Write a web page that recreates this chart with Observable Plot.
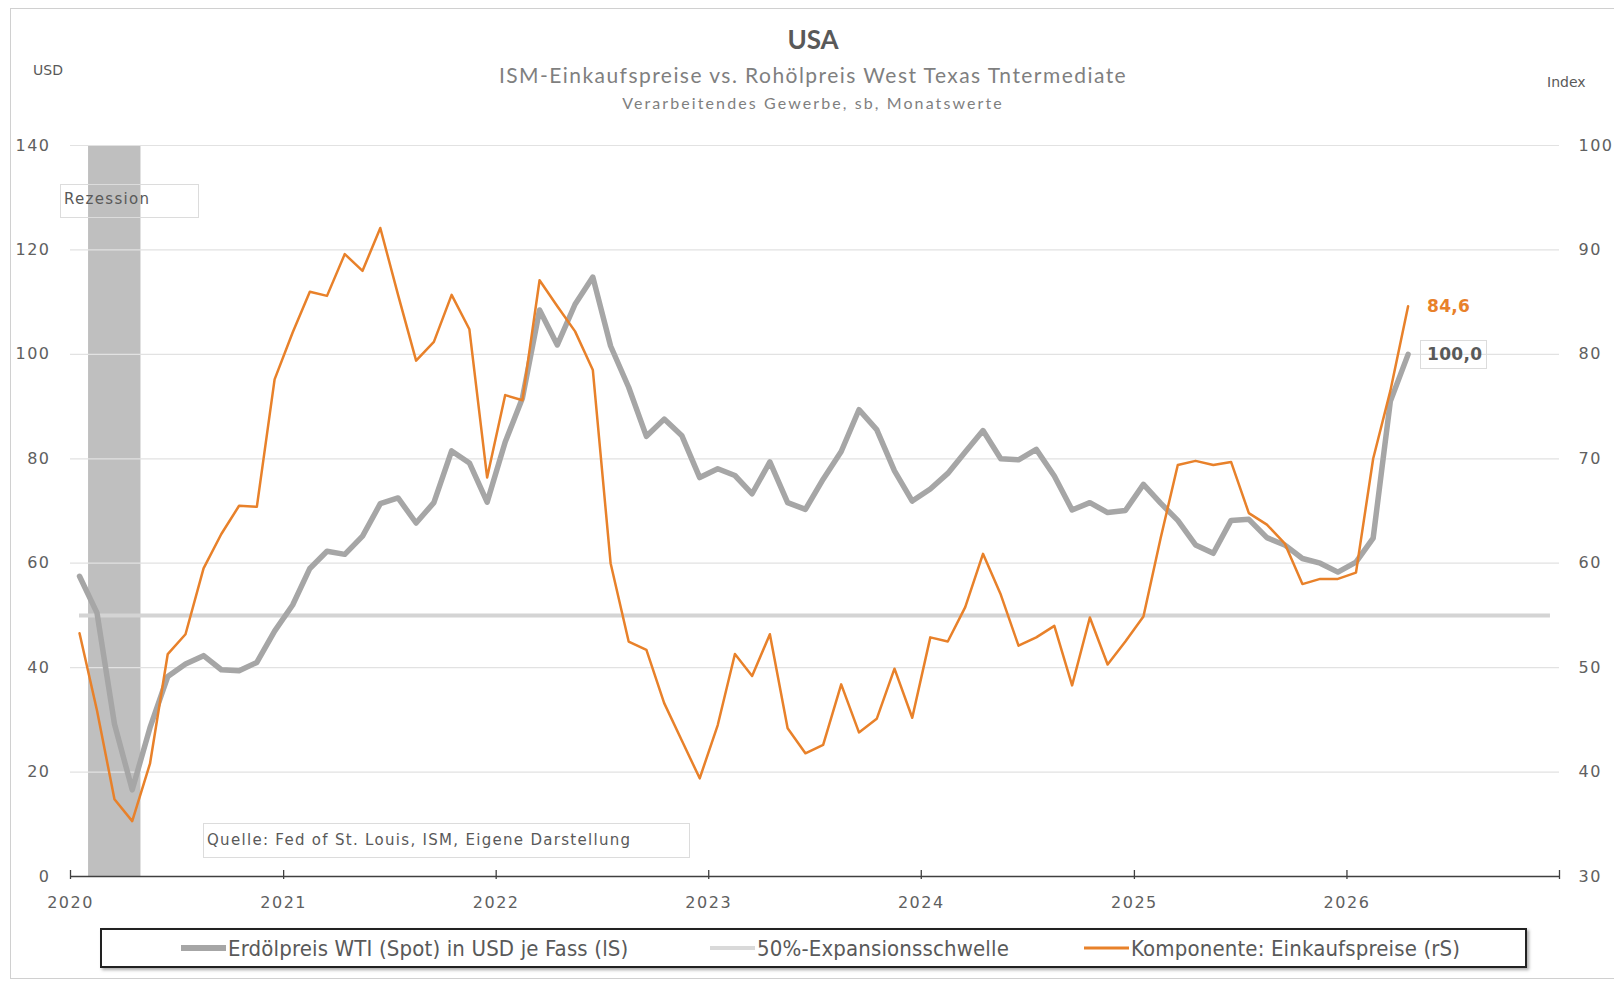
<!DOCTYPE html>
<html>
<head>
<meta charset="utf-8">
<script src="https://cdn.jsdelivr.net/npm/d3@7"></script>
<script src="https://cdn.jsdelivr.net/npm/@observablehq/plot@0.6"></script>
<style>
  body { margin: 0; background: #fff; }
  #wrap { position: relative; width: 1614px; height: 981px; overflow: hidden; background: #fff; color: #595959; }
  #frame { position: absolute; left: 10px; top: 8px; width: 1640px; height: 971px; border: 1.5px solid #d0d0d0; box-sizing: border-box; }
  .t { position: absolute; white-space: nowrap; line-height: 1; }
  .c { transform: translate(-50%, -50%); }
  .l { transform: translate(0, -50%); }
  #plot { position: absolute; left: 0; top: 120px; }
  #plot svg g[aria-label="tick"] text, #plot svg text { letter-spacing: 1.5px; }
  #plot svg g.endlabel text { letter-spacing: 0.3px; }
  .box { position: absolute; border: 1px solid #dcdcdc; box-sizing: border-box; }
  #legend { position: absolute; left: 100px; top: 928px; width: 1427px; height: 40px; border: 2px solid #222; box-sizing: border-box; box-shadow: 2px 2px 3px #aaa; }
  .sw { position: absolute; top: 50%; transform: translateY(-50%); }
  .lt { position: absolute; top: 50%; transform: translateY(-50%); font-family: "Liberation Sans Narrow", "DejaVu Sans Condensed", "Roboto", sans-serif; font-size: 22px; color: #595959; white-space: nowrap; letter-spacing: 0.15px; }
</style>
</head>
<body>
<div id="wrap">
  <div id="frame"></div>
  <div class="t c" style="left:813px; top:39px; font-family:Lato, sans-serif; font-weight:700; font-size:26px; color:#595959;">USA</div>
  <div class="t c" style="left:813px; top:74px; font-family:Lato, sans-serif; font-size:21px; color:#7f7f7f; letter-spacing:1.45px;">ISM-Einkaufspreise vs. Rohölpreis West Texas Tntermediate</div>
  <div class="t c" style="left:813px; top:103px; font-family:Lato, sans-serif; font-size:16px; color:#7f7f7f; letter-spacing:2.1px;">Verarbeitendes Gewerbe, sb, Monatswerte</div>
  <div class="t l" style="left:33px; top:70px; font-family:'DejaVu Sans', sans-serif; font-size:14px; color:#595959;">USD</div>
  <div class="t l" style="left:1547px; top:82px; font-family:'DejaVu Sans', sans-serif; font-size:14px; color:#595959;">Index</div>
  <div id="plot"></div>
  <div class="box" style="left:60px; top:184px; width:139px; height:34px;"></div>
  <div class="t l" style="left:64px; top:199px; font-family:'DejaVu Sans', sans-serif; font-size:15px; letter-spacing:1.3px; color:#595959;">Rezession</div>
  <div class="box" style="left:203px; top:823px; width:487px; height:35px; background:#fff;"></div>
  <div class="t l" style="left:207px; top:840px; font-family:'DejaVu Sans', sans-serif; font-size:15px; letter-spacing:1.3px; color:#595959;">Quelle: Fed of St. Louis, ISM, Eigene Darstellung</div>
  <div class="box" style="left:1420px; top:340px; width:67px; height:29px;"></div>
  <div id="legend">
    <div class="sw" style="left:79px; width:45px; height:6px; background:#a6a6a6;"></div>
    <div class="lt" style="left:126px;">Erdölpreis WTI (Spot) in USD je Fass (lS)</div>
    <div class="sw" style="left:608px; width:45px; height:4px; background:#d9d9d9;"></div>
    <div class="lt" style="left:655px;">50%-Expansionsschwelle</div>
    <div class="sw" style="left:982px; width:45px; height:3px; background:#e8812a;"></div>
    <div class="lt" style="left:1029px;">Komponente: Einkaufspreise (rS)</div>
  </div>
</div>
<script>
// ---- data (monthly, Jan 2020 – Apr 2026) ----
const firstMonth = "2020-01-01";
const wti = [
  57.5, 50.5, 29.2, 16.6, 28.5, 38.3, 40.7, 42.3, 39.6, 39.4, 41.0, 47.0,
  52.0, 59.0, 62.3, 61.7, 65.2, 71.4, 72.5, 67.7, 71.6, 81.5, 79.2, 71.7,
  83.2, 91.6, 108.5, 101.8, 109.6, 114.8, 101.6, 93.7, 84.3, 87.6, 84.4, 76.4,
  78.1, 76.8, 73.3, 79.4, 71.6, 70.3, 76.1, 81.4, 89.4, 85.6, 77.7, 71.9,
  74.2, 77.2, 81.3, 85.4, 80.0, 79.8, 81.8, 76.7, 70.2, 71.6, 69.7, 70.1,
  75.1, 71.5, 68.2, 63.5, 61.9, 68.2, 68.4, 64.9, 63.5, 60.9, 60.0, 58.3,
  60.2, 64.8, 91.0, 100.0
];
const ism = [
  53.3, 45.9, 37.4, 35.3, 40.8, 51.3, 53.2, 59.5, 62.8, 65.5, 65.4, 77.6,
  82.1, 86.0, 85.6, 89.6, 88.0, 92.1, 85.7, 79.4, 81.2, 85.7, 82.4, 68.2,
  76.1, 75.6, 87.1, 84.6, 82.2, 78.5, 60.0, 52.5, 51.7, 46.6, 43.0, 39.4,
  44.5, 51.3, 49.2, 53.2, 44.2, 41.8, 42.6, 48.4, 43.8, 45.1, 49.9, 45.2,
  52.9, 52.5, 55.8, 60.9, 57.0, 52.1, 52.9, 54.0, 48.3, 54.8, 50.3, 52.5,
  54.9, 62.4, 69.4, 69.8, 69.4, 69.7, 64.8, 63.7, 61.9, 58.0, 58.5, 58.5,
  59.1, 70.0, 76.5, 84.6
];
const threshold = 50;                       // drawn on the left axis
const thresholdSpan = ["2020-01-01", "2026-12-01"];
const recession = [{ start: "2020-02-01", end: "2020-05-01" }];
const yTicksLeft = [0, 20, 40, 60, 80, 100, 120, 140];
const yearTicks = ["2020", "2021", "2022", "2023", "2024", "2025", "2026", "2027"];
const yearLabels = ["2020", "2021", "2022", "2023", "2024", "2025", "2026"];
const rightDomain = [30, 100];
const leftDomain = [0, 140];

// ---- helpers ----
const parse = s => new Date(s + (s.length === 4 ? "-01-01" : "") + "T00:00:00Z");
const midMonth = d => new Date((+d + +d3.utcMonth.offset(d, 1)) / 2);
const toLeft = v => leftDomain[0] + (v - rightDomain[0]) * (leftDomain[1] - leftDomain[0]) / (rightDomain[1] - rightDomain[0]);
const fromLeft = v => rightDomain[0] + (v - leftDomain[0]) * (rightDomain[1] - rightDomain[0]) / (leftDomain[1] - leftDomain[0]);
const start = parse(firstMonth);
const rows = wti.map((v, i) => ({ date: midMonth(d3.utcMonth.offset(start, i)), wti: v, ism: ism[i] }));
const last = rows[rows.length - 1];
const deFmt = v => v.toFixed(1).replace(".", ",");

const chart = Plot.plot({
  width: 1614,
  height: 800,
  marginLeft: 70,
  marginRight: 55,
  marginTop: 25,
  marginBottom: 44,
  x: { type: "utc", domain: [parse("2020"), parse("2027")] },
  y: { domain: leftDomain },
  style: { fontFamily: "'DejaVu Sans', sans-serif", fontSize: "16px", color: "#606060", background: "transparent" },
  marks: [
    Plot.rect(recession, { x1: d => parse(d.start), x2: d => parse(d.end), y1: leftDomain[0], y2: leftDomain[1], fill: "#bfbfbf" }),
    Plot.gridY(yTicksLeft, { stroke: "#e2e2e2", strokeOpacity: 1, strokeWidth: 1.2 }),
    Plot.ruleY([threshold], { x1: midMonth(parse(thresholdSpan[0])), x2: midMonth(parse(thresholdSpan[1])), stroke: "#d4d4d4", strokeWidth: 4 }),
    Plot.lineY(rows, { x: "date", y: "wti", stroke: "#a6a6a6", strokeWidth: 5.5, strokeLinejoin: "round" }),
    Plot.lineY(rows, { x: "date", y: d => toLeft(d.ism), stroke: "#e8812a", strokeWidth: 2.5, strokeLinejoin: "round" }),
    Plot.ruleY([0], { stroke: "#404040", strokeWidth: 1.5 }),
    Plot.ruleX(yearTicks, { x: d => parse(d), y1: 0, y2: 0, insetTop: -6, insetBottom: -3, stroke: "#404040", strokeWidth: 1.3 }),
    Plot.axisX({ ticks: yearLabels.map(parse), tickSize: 0, tickPadding: 20, tickFormat: "%Y", label: null }),
    Plot.axisY({ anchor: "left", ticks: yTicksLeft, tickSize: 0, tickPadding: 20, label: null }),
    Plot.axisY({ anchor: "right", ticks: yTicksLeft, tickSize: 0, tickPadding: 19, tickFormat: d => fromLeft(d), label: null }),
    Plot.text([last], { x: "date", y: "wti", text: d => deFmt(d.wti), dx: 19, textAnchor: "start", fill: "#595959", fontWeight: "bold", fontSize: 17, className: "endlabel" }),
    Plot.text([last], { x: "date", y: d => toLeft(d.ism), text: d => deFmt(d.ism), dx: 19, textAnchor: "start", fill: "#e8812a", fontWeight: "bold", fontSize: 17, className: "endlabel" })
  ]
});
document.getElementById("plot").append(chart);
</script>
</body>
</html>
